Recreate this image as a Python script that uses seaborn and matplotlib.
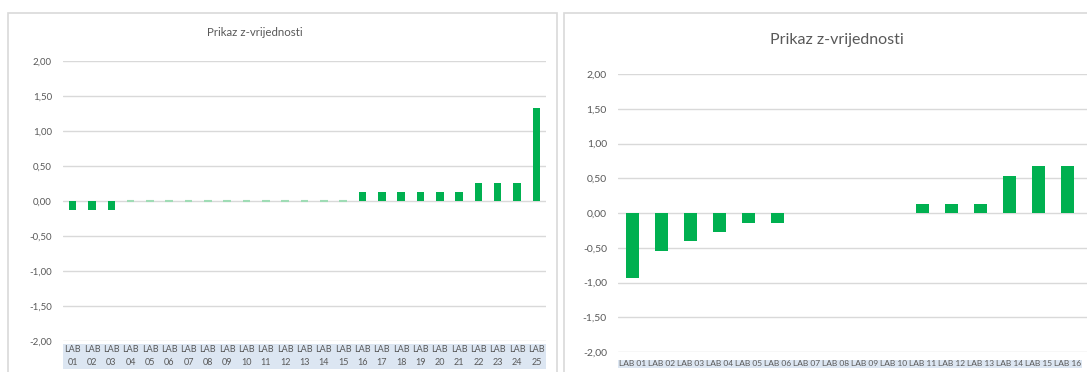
import numpy as np
import pandas as pd
import seaborn as sns
from matplotlib import pyplot as plt
from matplotlib.patches import Rectangle
from matplotlib.ticker import FuncFormatter

# left chart data
left_labs = ['LAB\n%02d' % i for i in range(1, 26)]
left_z = [-0.13, -0.13, -0.13, 0, 0, 0, 0, 0, 0, 0, 0, 0, 0, 0, 0,
          0.13, 0.13, 0.13, 0.13, 0.13, 0.13, 0.26, 0.26, 0.26, 1.33]

# right chart data (only the visible part of the cropped chart)
right_labs = ['LAB %02d' % i for i in range(1, 17)]
right_z = [-0.94, -0.54, -0.40, -0.27, -0.14, -0.14, 0, 0, 0, 0,
           0.13, 0.13, 0.13, 0.53, 0.67, 0.67]

yticks = [-2, -1.5, -1, -0.5, 0, 0.5, 1, 1.5, 2]
title = 'Prikaz z-vrijednosti'

green = '#00b050'
grid_c = '#d9d9d9'
text_c = '#595959'
lab_bg = '#dce6f2'

sns.set_theme(style='white')
plt.rcParams['font.family'] = ['Lato', 'DejaVu Sans']

W, H = 1087, 372
fig = plt.figure(figsize=(W / 100, H / 100), dpi=100)

# chart frames (figure pixel coords)
for x0, x1 in [(8, 557), (564, 1200)]:
    fig.patches.append(Rectangle((x0 / W, -0.1), (x1 - x0) / W, (H - 13) / H + 0.1,
                                 transform=fig.transFigure, fill=False,
                                 edgecolor=grid_c, linewidth=1.2))

fmt = FuncFormatter(lambda v, p: ('%.2f' % v).replace('.', ','))


def style_axis(ax, fs_y, fs_x, bpad, xpad):
    ax.set_ylim(-2, 2)
    ax.set_yticks(yticks)
    ax.yaxis.set_major_formatter(fmt)
    ax.grid(axis='y', color=grid_c, linewidth=1)
    ax.set_axisbelow(True)
    for s in ax.spines.values():
        s.set_visible(False)
    ax.tick_params(axis='both', length=0, colors=text_c)
    ax.tick_params(axis='y', labelsize=fs_y, pad=8)
    ax.tick_params(axis='x', labelsize=fs_x, pad=xpad)
    ax.set_xlabel('')
    ax.set_ylabel('')
    for t in ax.get_xticklabels():
        t.set_bbox(dict(facecolor=lab_bg, edgecolor='none', pad=bpad))


# left chart
ax1 = fig.add_axes([63 / W, 31 / H, 483 / W, 280 / H])
sns.barplot(x=left_labs, y=left_z, color=green, saturation=1, width=0.39,
            linewidth=0, ax=ax1)
for p in ax1.patches:
    if p.get_height() == 0:
        p.set_edgecolor('#9fdcb5')
        p.set_linewidth(1.5)
ax1.set_xlim(-0.5, len(left_labs) - 0.5)
style_axis(ax1, 7, 6.5, 1.2, 3)
for t in ax1.get_xticklabels():
    t.set_linespacing(1.6)
fig.text(255 / W, 1 - 33 / H, title, ha='center', va='center', fontsize=8.3, color=text_c)

# right chart (cropped at figure edge)
ax2 = fig.add_axes([618 / W, 20 / H, 29 * 17 / W, 278 / H])
sns.barplot(x=right_labs, y=right_z, color=green, saturation=1, width=0.44,
            linewidth=0, ax=ax2)
ax2.set_xlim(-0.5, 16.5)
style_axis(ax2, 7.5, 6.0, 0.6, 6)
fig.text(837 / W, 1 - 40 / H, title, ha='center', va='center', fontsize=11.5, color=text_c)

fig.savefig('out.png', dpi=100)
